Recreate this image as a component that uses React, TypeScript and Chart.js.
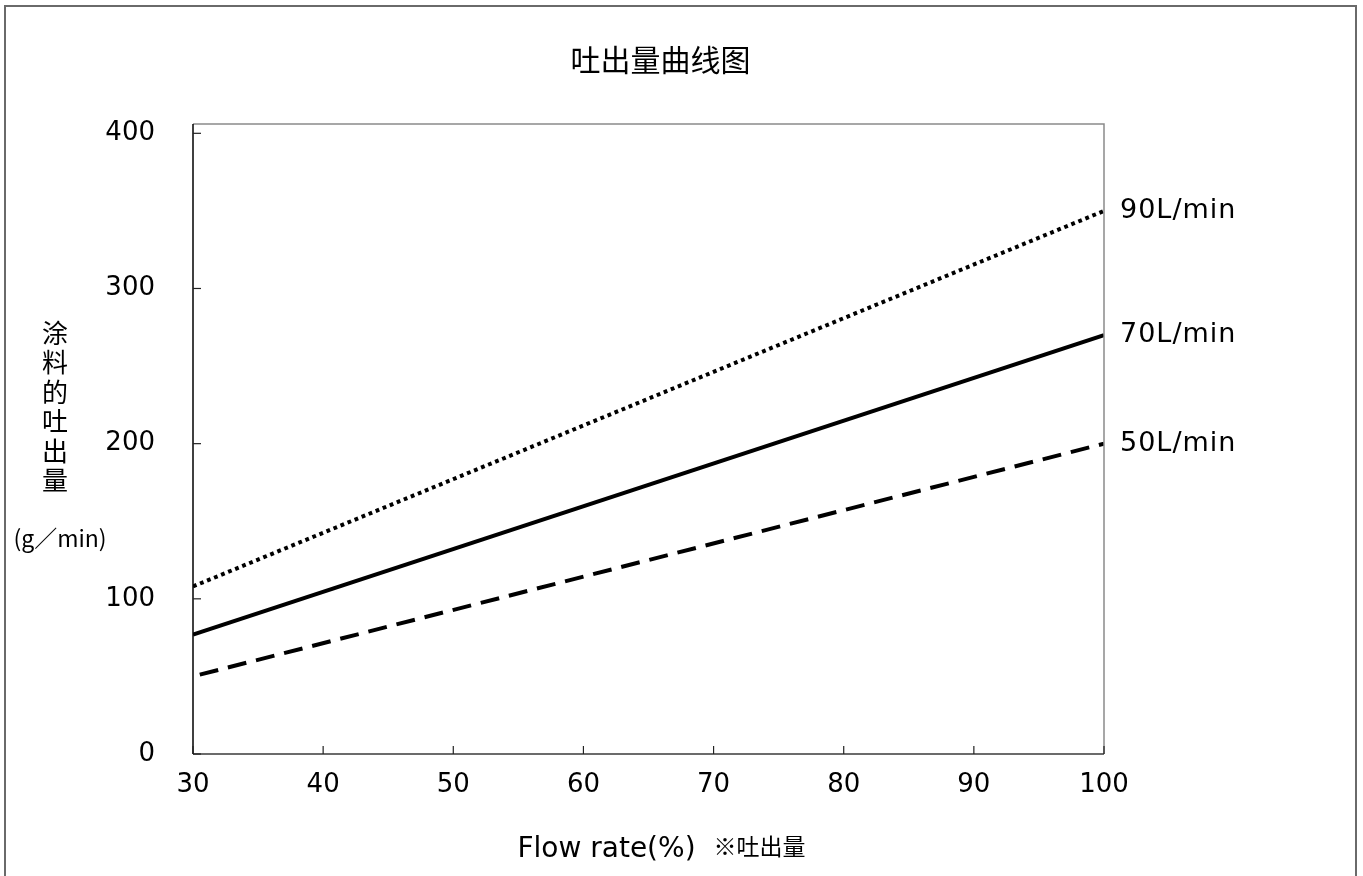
import React, { useEffect, useRef } from "react";
import { Chart, registerables } from "chart.js";

Chart.register(...registerables);

// ---- data ----
const flowRates = [30, 100];
const series50 = [50, 200];
const series70 = [77, 270];
const series90 = [108, 350];
const seriesLabels = ["50L/min", "70L/min", "90L/min"];
const xTicks = [30, 40, 50, 60, 70, 80, 90, 100];
const yTicks = [0, 100, 200, 300, 400];
const chartTitle = "吐出量曲线图";
const yTitleChars = ["涂", "料", "的", "吐", "出", "量"];
const yUnit = "(g／min)";
const xTitleMain = "Flow rate(%)";
const xTitleNote = "※吐出量";

const LATIN = "'DejaVu Sans', sans-serif";
const CJK = "'Noto Sans CJK SC', 'Noto Sans CJK JP', sans-serif";

const decorPlugin = {
  id: "decor",
  afterDraw(chart: any) {
    const { ctx, chartArea } = chart;
    const { left, right, top, bottom } = chartArea;
    ctx.save();

    // outer frame
    ctx.strokeStyle = "#6a6a6a";
    ctx.lineWidth = 2;
    ctx.strokeRect(5, 6, 1351, 900);

    // plot frame
    ctx.lineWidth = 1.5;
    ctx.strokeStyle = "#8a8a8a";
    ctx.beginPath();
    ctx.moveTo(left, top);
    ctx.lineTo(right, top);
    ctx.lineTo(right, bottom);
    ctx.stroke();
    ctx.strokeStyle = "#3a3a3a";
    ctx.beginPath();
    ctx.moveTo(left, bottom);
    ctx.lineTo(right, bottom);
    ctx.stroke();
    ctx.strokeStyle = "#000";
    ctx.beginPath();
    ctx.moveTo(left, top);
    ctx.lineTo(left, bottom);
    ctx.stroke();

    // inward ticks
    const xs = chart.scales.x;
    const ys = chart.scales.y;
    ctx.lineWidth = 1.2;
    ctx.strokeStyle = "#222";
    ys.ticks.forEach((t: any) => {
      const py = ys.getPixelForValue(t.value);
      ctx.beginPath();
      ctx.moveTo(left, py);
      ctx.lineTo(left + 8, py);
      ctx.stroke();
    });
    xs.ticks.forEach((t: any) => {
      const px = xs.getPixelForValue(t.value);
      ctx.beginPath();
      ctx.moveTo(px, bottom);
      ctx.lineTo(px, bottom - 8);
      ctx.stroke();
    });

    // series end labels
    ctx.fillStyle = "#000";
    ctx.font = `27px ${LATIN}`;
    (ctx as any).letterSpacing = "1px";
    ctx.textAlign = "left";
    ctx.textBaseline = "middle";
    chart.data.datasets.forEach((ds: any, i: number) => {
      const meta = chart.getDatasetMeta(i);
      const pt = meta.data[meta.data.length - 1];
      ctx.fillText(ds.label, right + 16, pt.y);
    });
    (ctx as any).letterSpacing = "0px";

    // title
    const cx = (left + right) / 2 + 12;
    ctx.textAlign = "center";
    ctx.font = `30px ${CJK}`;
    ctx.fillText(chartTitle, cx, 60);

    // y title (vertical stacked)
    ctx.font = `26px ${CJK}`;
    yTitleChars.forEach((c, i) => {
      ctx.fillText(c, 55, 333 + i * 29.5);
    });
    ctx.font = `23px ${CJK}`;
    ctx.fillText(yUnit, 60, 538);

    // x title
    ctx.textAlign = "left";
    ctx.textBaseline = "alphabetic";
    ctx.font = `28px ${LATIN}`;
    const w1 = ctx.measureText(xTitleMain).width;
    ctx.font = `23px ${CJK}`;
    const w2 = ctx.measureText(xTitleNote).width;
    const gap = 18;
    const startX = cx + 1 - (w1 + gap + w2) / 2;
    ctx.font = `28px ${LATIN}`;
    ctx.fillText(xTitleMain, startX, 857);
    ctx.font = `23px ${CJK}`;
    ctx.fillText(xTitleNote, startX + w1 + gap, 855);

    ctx.restore();
  },
};

export default function App() {
  const ref = useRef<HTMLCanvasElement | null>(null);

  useEffect(() => {
    if (!ref.current) return;
    const toPts = (ys: number[]) => flowRates.map((x, i) => ({ x, y: ys[i] }));
    const chart = new Chart(ref.current, {
      type: "line",
      data: {
        datasets: [
          {
            label: seriesLabels[0],
            data: toPts(series50),
            borderColor: "#000",
            borderWidth: 4,
            borderDash: [19, 10],
            borderDashOffset: 22,
            borderCapStyle: "butt",
            pointRadius: 0,
            fill: false,
          },
          {
            label: seriesLabels[1],
            data: toPts(series70),
            borderColor: "#000",
            borderWidth: 4,
            pointRadius: 0,
            fill: false,
          },
          {
            label: seriesLabels[2],
            data: toPts(series90),
            borderColor: "#000",
            borderWidth: 4,
            borderDash: [3.8, 3.8],
            borderCapStyle: "butt",
            pointRadius: 0,
            fill: false,
          },
        ],
      },
      options: {
        responsive: false,
        animation: false,
        layout: { padding: { top: 124, right: 259, left: 0, bottom: 0 } },
        plugins: {
          legend: { display: false },
          title: { display: false },
          tooltip: { enabled: false },
        },
        scales: {
          x: {
            type: "linear",
            min: 30,
            max: 100,
            grid: { display: false, drawTicks: false },
            border: { display: false },
            afterFit: (s: any) => {
              s.height = 122;
            },
            afterBuildTicks: (s: any) => {
              s.ticks = xTicks.map((v) => ({ value: v }));
            },
            ticks: {
              includeBounds: false,
              padding: 16,
              color: "#000",
              font: { family: LATIN, size: 26 },
              maxRotation: 0,
              autoSkip: false,
            },
          },
          y: {
            type: "linear",
            min: 0,
            max: 406,
            grid: { display: false, drawTicks: false },
            border: { display: false },
            afterFit: (s: any) => {
              s.width = 193;
            },
            afterBuildTicks: (s: any) => {
              s.ticks = yTicks.map((v) => ({ value: v }));
            },
            ticks: {
              includeBounds: false,
              padding: 38,
              color: "#000",
              font: { family: LATIN, size: 26 },
              autoSkip: false,
            },
          },
        },
      } as any,
      plugins: [decorPlugin],
    });
    return () => chart.destroy();
  }, []);

  return (
    <canvas
      ref={ref}
      width={1363}
      height={876}
      style={{ position: "absolute", left: 0, top: 0, width: 1363, height: 876, display: "block", background: "#fff" }}
    />
  );
}
